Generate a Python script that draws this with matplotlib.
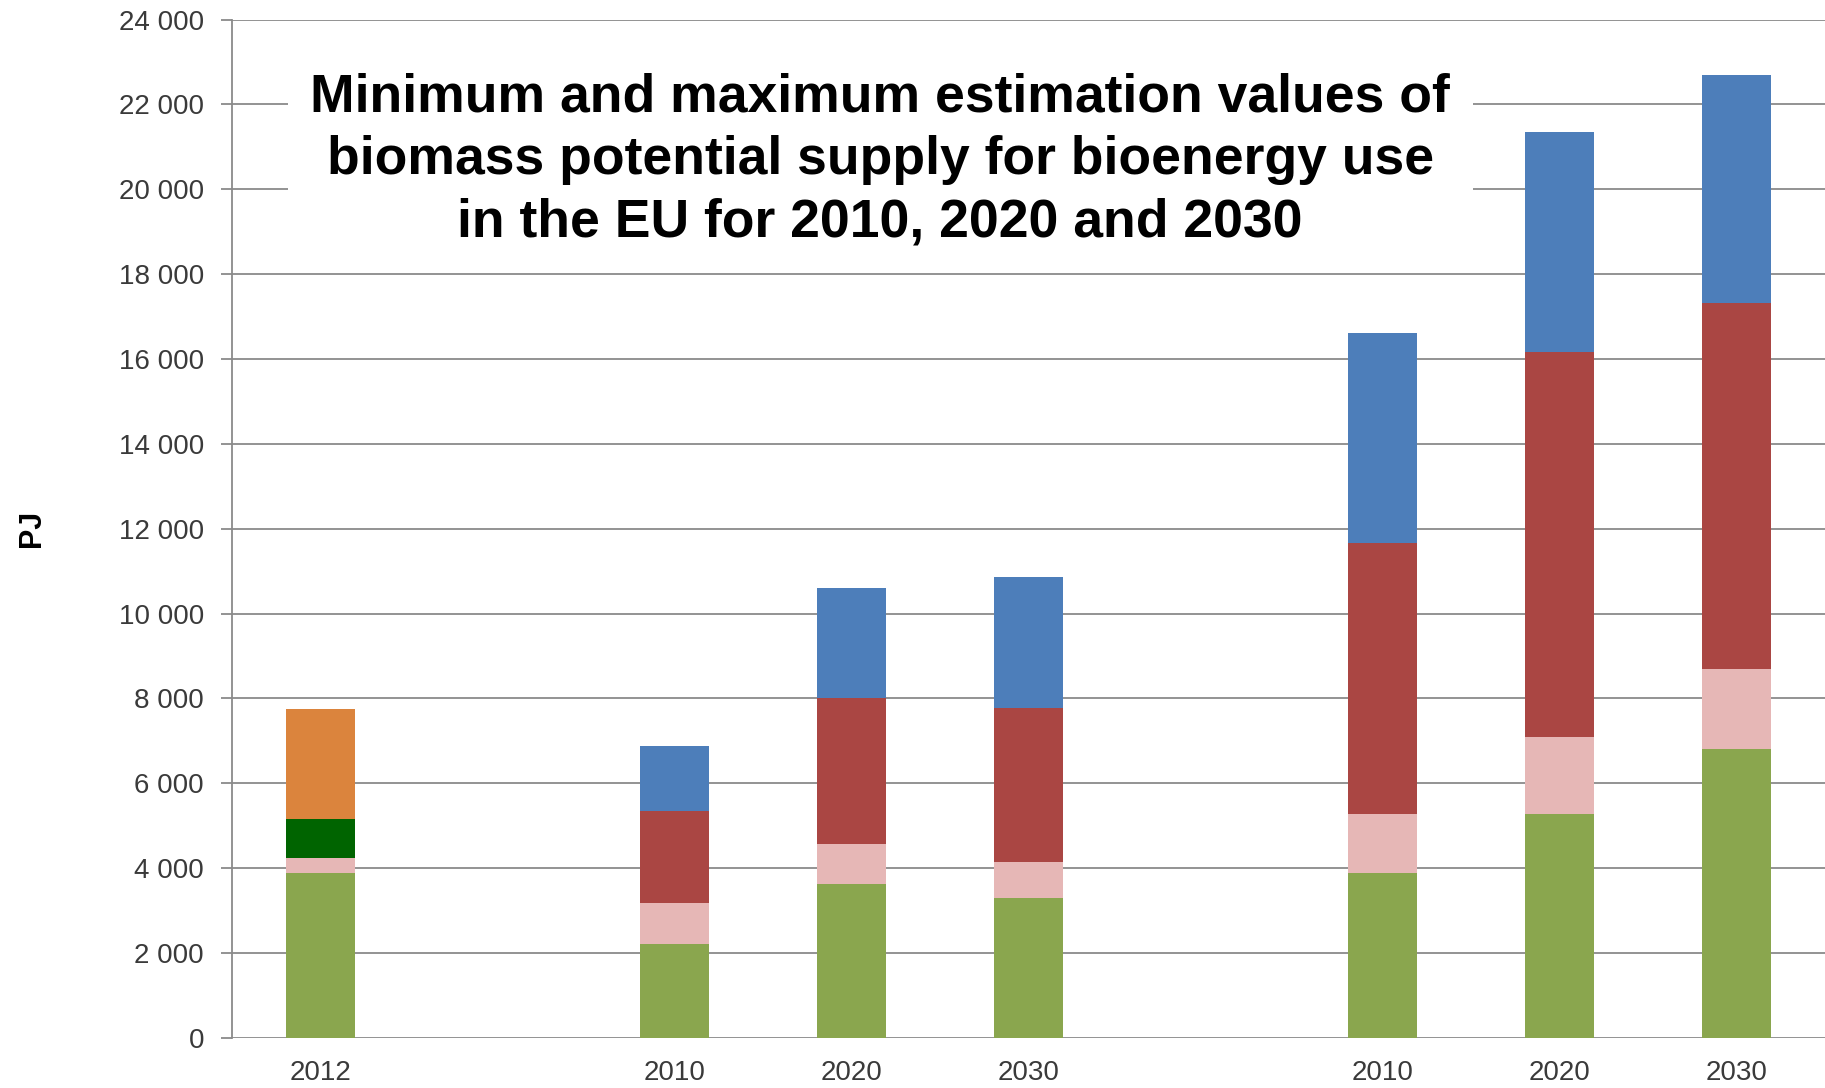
# -*- coding: utf-8 -*-
"""Biomass potential supply for bioenergy use in the EU: stacked bars (PJ)."""
import numpy as np
import matplotlib
matplotlib.use("Agg")
import matplotlib.pyplot as plt

# ---- data (PJ) --------------------------------------------------------
x_labels = ["2012", "2010", "2020", "2030", "2010", "2020", "2030"]
x_pos = [0, 2, 3, 4, 6, 7, 8]

green = [3890, 2220, 3620, 3290, 3890, 5270, 6800]
pink = [355, 960, 940, 860, 1380, 1830, 1890]
dark_green = [920, 0, 0, 0, 0, 0, 0]
orange = [2595, 0, 0, 0, 0, 0, 0]
red = [0, 2180, 3460, 3620, 6400, 9060, 8630]
blue = [0, 1530, 2580, 3100, 4940, 5190, 5380]

y_ticks = list(range(0, 24001, 2000))

TITLE = ("Minimum and maximum estimation values of\n"
         "biomass potential supply for bioenergy use\n"
         "in the EU for 2010, 2020 and 2030")

matplotlib.rcParams.update({
    "font.family": ["Liberation Sans", "DejaVu Sans"],
})

fig = plt.figure(figsize=(18.25, 10.88), dpi=100)
ax = fig.add_axes([0.127, 0.046, 0.873, 0.936])

# stacking order bottom -> top
layers = [
    (green, "#8AA64E"),
    (pink, "#E6B7B6"),
    (dark_green, "#006400"),
    (red, "#AA4643"),
    (orange, "#DB843D"),
    (blue, "#4D7EBA"),
]
bottom = np.zeros(len(x_pos))
for vals, col in layers:
    vals = np.array(vals, dtype=float)
    ax.bar(x_pos, vals, bottom=bottom, width=0.39, color=col,
           edgecolor="none", zorder=3)
    bottom += vals

ax.set_xlim(-0.5, 8.5)
ax.set_ylim(0, 24000)
ax.set_yticks(y_ticks)
ax.set_yticklabels([f"{v:,}".replace(",", " ") for v in y_ticks])
ax.set_xticks(x_pos)
ax.set_xticklabels(x_labels)

ax.yaxis.grid(True, color="#8a8a8a", lw=1.3, zorder=0)
ax.set_axisbelow(True)
for s in ("top", "right", "bottom"):
    ax.spines[s].set_visible(False)
ax.spines["left"].set_color("#8a8a8a")
ax.spines["left"].set_linewidth(1.3)

ax.tick_params(axis="y", direction="out", length=8, width=1.3,
               color="#8a8a8a", labelsize=20, labelcolor="#3a3a3a", pad=12)
ax.tick_params(axis="x", length=0, labelsize=20, labelcolor="#3a3a3a",
               pad=16)

ax.set_ylabel("PJ", fontsize=22, fontweight="bold", labelpad=52)

ax.text(0.407, 0.862, TITLE, transform=ax.transAxes, ha="center",
        va="center", fontsize=38.5, fontweight="bold", linespacing=1.32,
        bbox=dict(facecolor="white", edgecolor="none", pad=16), zorder=4)

fig.savefig("out.png", dpi=100)
plt.close(fig)
